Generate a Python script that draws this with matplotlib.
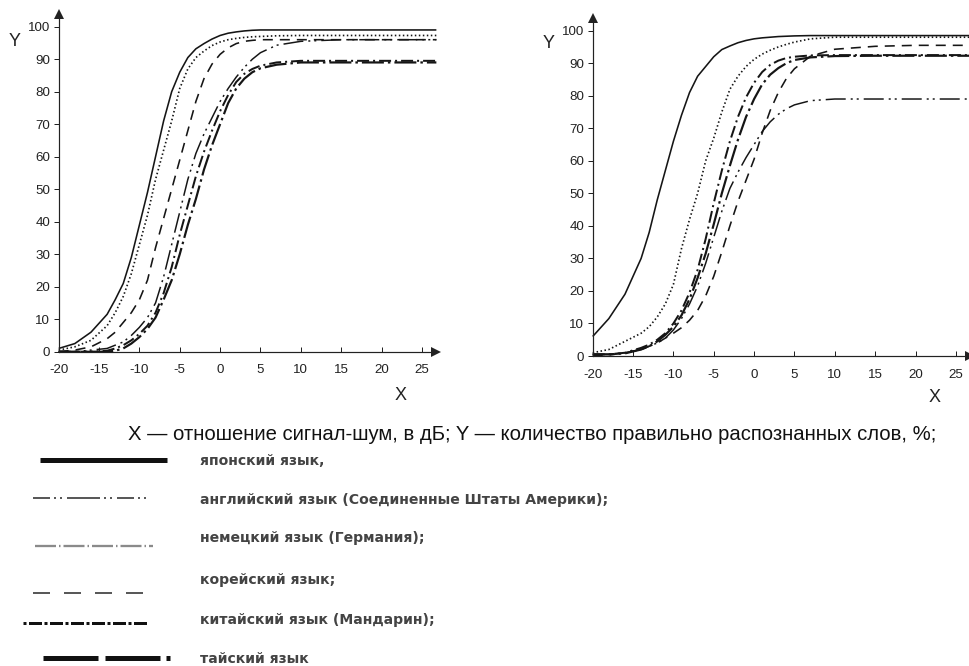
import numpy as np
import matplotlib
matplotlib.use('Agg')
import matplotlib.pyplot as plt
from matplotlib.lines import Line2D
from matplotlib import font_manager

plt.rcParams['lines.scale_dashes'] = False
plt.rcParams['axes.unicode_minus'] = False

names = {f.name for f in font_manager.fontManager.ttflist}
HAS_NARROW = 'Liberation Sans Narrow' in names
NARROW = 'Liberation Sans Narrow' if HAS_NARROW else 'Liberation Sans'
TICK_SIZE = 10.5 if HAS_NARROW else 9.6

# ---------------- data ----------------
x_pts = [-20, -18, -16, -14, -13, -12, -11, -10, -9, -8, -7, -6, -5, -4, -3, -2, -1,
         0, 1, 2, 3, 4, 5, 7, 10, 15, 20, 26.8]

# left panel
left_japanese = [1, 2.5, 6, 11.5, 16, 21, 29, 39, 49, 60, 71, 80, 86, 90.5, 93.2, 94.8, 96.2,
                 97.3, 98, 98.4, 98.7, 98.9, 99, 99, 99, 99, 99, 99]
left_english = [0.5, 1.5, 3.5, 8, 12, 17, 24, 33, 42, 53, 62, 71, 81, 87, 90.5, 92.5, 94.2,
                95.3, 96, 96.4, 96.7, 96.9, 97, 97.2, 97.3, 97.3, 97.3, 97.3]
left_german = [0, 0, 0.5, 1, 2, 3, 5, 7.5, 10.5, 15, 23, 33, 43, 53, 61, 67, 72,
               77, 81, 84.5, 87.5, 90, 92, 94.3, 95.5, 96, 96, 96]
left_korean = [0, 0.5, 1.5, 4, 6, 9, 12, 16, 22, 32, 41, 50, 59, 68, 77, 84, 88.5,
               91.5, 93.5, 94.8, 95.5, 95.8, 96, 96, 96, 96, 96, 96]
left_chinese = [0, 0, 0, 0.3, 1, 2, 3.5, 5.5, 8, 12, 18, 26, 36, 45, 54, 61.5, 68,
                74, 79, 83, 85.5, 87, 88, 89, 89.5, 89.5, 89.5, 89.5]
left_thai = [0, 0, 0, 0, 0.3, 1, 2.5, 4.5, 7, 10.5, 16, 22, 30, 39, 47, 56, 63.5,
             70, 76.5, 81, 84, 86, 87.2, 88.3, 89, 89, 89, 89]

# right panel
right_japanese = [6, 11.5, 19, 30, 38, 48, 57, 66, 74, 81, 86, 89, 92, 94.2, 95.3, 96.3, 97,
                  97.5, 97.8, 98, 98.2, 98.3, 98.4, 98.5, 98.5, 98.5, 98.5, 98.5]
right_english = [1, 2, 4.5, 7, 9, 12, 16, 22, 33, 42, 50, 60, 67, 75, 82, 86, 89,
                 91.2, 92.8, 94, 95, 95.8, 96.5, 97.5, 98, 98, 98, 98]
right_german = [0.5, 0.5, 1, 2, 3, 4, 5.5, 8, 11.5, 16, 21.5, 28.5, 36.5, 44.5, 51.5, 56.5, 61,
                65, 69, 72, 74.3, 76, 77.2, 78.5, 79, 79, 79, 79]
right_korean = [0, 0.3, 1, 2, 3, 4, 5.5, 7, 8.7, 11, 14, 18.5, 24.5, 32, 40, 47.5, 54,
                60.5, 68.5, 75.5, 81, 85.3, 88.3, 92.2, 94.3, 95.2, 95.5, 95.5]
right_chinese = [0.5, 0.5, 1, 2.5, 3.5, 5, 7, 10, 14, 19.5, 26.5, 36, 47, 57, 66, 73.5, 79.5,
                 84, 87.3, 89.5, 90.8, 91.6, 92, 92.4, 92.5, 92.5, 92.5, 92.5]
right_thai = [0.5, 0.5, 0.8, 2, 3, 4.5, 6.5, 9, 12.5, 17.5, 24, 31.5, 40.5, 50, 58.5, 66.5, 73.5,
              79, 83.5, 86.5, 88.5, 90, 91, 91.8, 92.2, 92.3, 92.3, 92.3]

x_ticks = [-20, -15, -10, -5, 0, 5, 10, 15, 20, 25]
y_ticks = [0, 10, 20, 30, 40, 50, 60, 70, 80, 90, 100]

header = "X — отношение сигнал-шум, в дБ; Y — количество правильно распознанных слов, %;"
legend_labels = ["японский язык,",
                 "английский язык (Соединенные Штаты Америки);",
                 "немецкий язык (Германия);",
                 "корейский язык;",
                 "китайский язык (Мандарин);",
                 "тайский язык"]

# ---------------- styles ----------------
P = 0.72  # points per pixel
INK = '#151515'
plot_styles = {
    'japanese': dict(color=INK, lw=1.6 * P, ls='-'),
    'english': dict(color=INK, lw=1.7 * P, ls=(0, (1.5 * P, 2.5 * P))),
    'german': dict(color=INK, lw=1.5 * P, ls=(0, (20 * P, 5 * P, 2 * P, 4 * P, 2 * P, 5 * P))),
    'korean': dict(color=INK, lw=1.6 * P, ls=(0, (10 * P, 7 * P))),
    'chinese': dict(color=INK, lw=2.0 * P, ls=(0, (12 * P, 4 * P, 2 * P, 4 * P))),
    'thai': dict(color=INK, lw=2.2 * P, ls=(0, (22 * P, 4 * P, 2.5 * P, 4 * P))),
}

W, H = 969, 666
fig = plt.figure(figsize=(W / 100, H / 100), dpi=100)


def make_axes(x_left_px, y_zero_px, ppx, ppy, xmax, ymax):
    width = (xmax + 20) * ppx
    height = ymax * ppy
    ax = fig.add_axes([x_left_px / W, 1 - y_zero_px / H, width / W, height / H])
    ax.set_xlim(-20, xmax)
    ax.set_ylim(0, ymax)
    for s in ('top', 'right'):
        ax.spines[s].set_visible(False)
    for s in ('left', 'bottom'):
        ax.spines[s].set_linewidth(1.2 * P)
        ax.spines[s].set_color('#222222')
    ax.set_xticks(x_ticks)
    ax.set_yticks(y_ticks)
    ax.tick_params(axis='x', direction='in', length=5 * P, width=1.0 * P, pad=9.0,
                   labelsize=TICK_SIZE, colors='#222222')
    ax.tick_params(axis='y', direction='out', length=5 * P, width=1.0 * P, pad=2.5,
                   labelsize=TICK_SIZE, colors='#222222')
    for lab in ax.get_xticklabels() + ax.get_yticklabels():
        lab.set_fontfamily(NARROW)
    ax.patch.set_alpha(0)
    # arrows at axis ends
    ax.plot([1], [0], marker='>', ms=7, color='#222222', transform=ax.transAxes,
            clip_on=False, mew=0)
    ax.plot([0], [1], marker='^', ms=7, color='#222222', transform=ax.transAxes,
            clip_on=False, mew=0)
    return ax


axL = make_axes(58.7, 351.7, 8.07, 3.25, 26.8, 104)
axR = make_axes(592.7, 356.0, 8.07, 3.253, 26.8, 104)

order = ['thai', 'chinese', 'korean', 'german', 'english', 'japanese']
left_data = dict(japanese=left_japanese, english=left_english, german=left_german,
                 korean=left_korean, chinese=left_chinese, thai=left_thai)
right_data = dict(japanese=right_japanese, english=right_english, german=right_german,
                  korean=right_korean, chinese=right_chinese, thai=right_thai)
for key in order:
    axL.plot(x_pts, left_data[key], solid_capstyle='butt', dash_capstyle='butt',
             clip_on=False, **plot_styles[key])
    axR.plot(x_pts, right_data[key], solid_capstyle='butt', dash_capstyle='butt',
             clip_on=False, **plot_styles[key])

# axis letters
for (xp, yp, t) in [(15, 42, 'Y'), (401, 396, 'X'), (549, 44, 'Y'), (935, 398, 'X')]:
    fig.text(xp / W, 1 - yp / H, t, ha='center', va='center', fontsize=13,
             family=NARROW, color='#222222')

# header / key
fig.text(128 / W, 1 - 434 / H, header, ha='left', va='center', fontsize=14.6,
         family='Liberation Sans', color='#111111')

legend_rows = [
    # (x0, x1, y_line, y_text, lw_px, dashes_px, color)
    (40, 167, 460, 461, 5.0, None, '#111111'),
    (33, 150, 498, 500, 1.5, (17, 4, 2, 4, 2, 5, 33, 4, 2, 4, 2, 5), '#222222'),
    (35, 153, 546, 538, 2.3, (21, 3, 1.5, 3), '#8a8a8a'),
    (33, 153, 593, 580, 1.5, (17, 14), '#222222'),
    (23, 148, 623, 620, 3.0, (3, 2.5, 13, 2.5), '#111111'),
    (43, 170, 658, 659, 5.0, (55, 7, 55, 6, 4, 8), '#111111'),
]
for (x0, x1, yl, yt, lw, dashes, col), label in zip(legend_rows, legend_labels):
    ls = '-' if dashes is None else (0, tuple(d * P for d in dashes))
    fig.add_artist(Line2D([x0 / W, x1 / W], [1 - yl / H, 1 - yl / H], lw=lw * P,
                          color=col, ls=ls, solid_capstyle='butt', dash_capstyle='butt',
                          transform=fig.transFigure))
    fig.text(200 / W, 1 - yt / H, label, ha='left', va='center', fontsize=10.1,
             family='DejaVu Sans', weight='bold', color='#444444')

fig.savefig('out.png', dpi=100)
